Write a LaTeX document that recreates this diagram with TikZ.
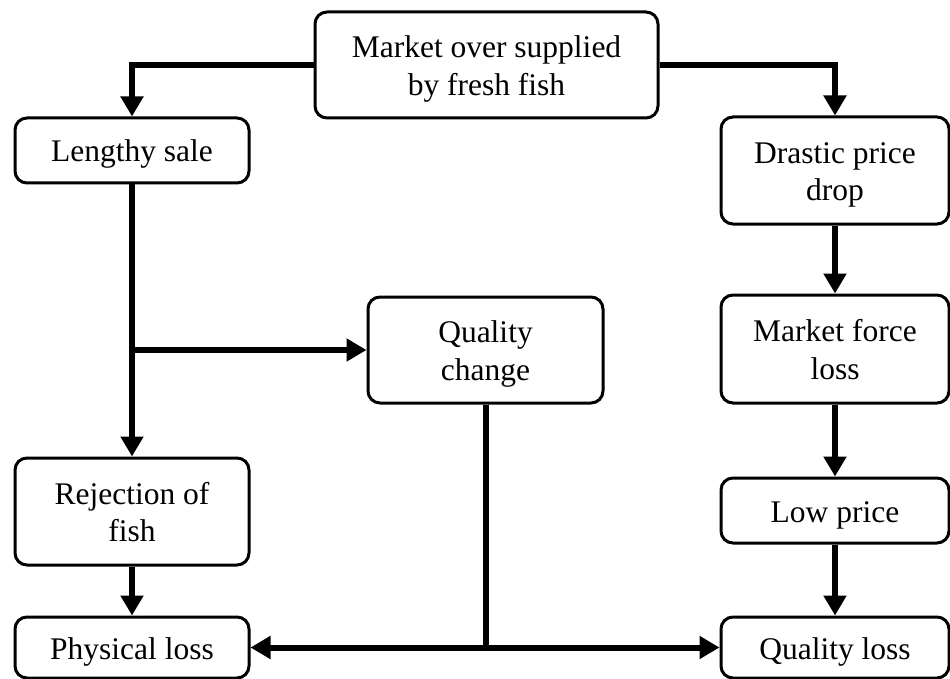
\documentclass[tikz,border=0pt]{standalone}
\usepackage{fontspec}
\setmainfont{Liberation Serif}
\usetikzlibrary{arrows.meta}
\newcommand\bt[1]{\raisebox{-4pt}[\height][\depth]{\begin{tabular}{@{}c@{}}#1\end{tabular}}}
\begin{document}
\begin{tikzpicture}[x=1pt,y=-1pt,
  box/.style={draw, line width=3pt, rounded corners=12pt, inner sep=0pt,
    font=\fontsize{31.5}{37.5}\selectfont},
  conn/.style={line width=6pt},
  arr/.style={line width=6pt, -{Triangle[length=20pt,width=22pt]}}]
\useasboundingbox (0,0) rectangle (950,679);
\node[box, minimum width=343pt, minimum height=106pt] (top) at (486.5,65) {\bt{Market over supplied\\by fresh fish}};
\node[box, minimum width=234pt, minimum height=65pt] (ls) at (132,150.5) {\bt{Lengthy sale}};
\node[box, minimum width=228pt, minimum height=107pt] (dpd) at (835,170.5) {\bt{Drastic price\\drop}};
\node[box, minimum width=235pt, minimum height=106pt] (qc) at (485.5,350) {\bt{Quality\\change}};
\node[box, minimum width=228pt, minimum height=108pt] (mfl) at (835,349) {\bt{Market force\\loss}};
\node[box, minimum width=234pt, minimum height=107pt] (rej) at (132,511.5) {\bt{Rejection of\\fish}};
\node[box, minimum width=228pt, minimum height=65pt] (lp) at (835,510.5) {\bt{Low price}};
\node[box, minimum width=234pt, minimum height=61pt] (pl) at (132,647.5) {\bt{Physical loss}};
\node[box, minimum width=228pt, minimum height=61pt] (ql) at (835,647.5) {\bt{Quality loss}};
\coordinate (jn) at (qc.south |- pl.east);
\draw[arr] (top.west) -| (ls.north);
\draw[arr] (top.east) -| (dpd.north);
\draw[arr] (ls.south) -- (rej.north);
\draw[arr] (ls.south |- qc.west) -- (qc.west);
\draw[arr] (rej.south) -- (pl.north);
\draw[arr] (dpd.south) -- (mfl.north);
\draw[arr] (mfl.south) -- (lp.north);
\draw[arr] (lp.south) -- (ql.north);
\draw[conn] (qc.south) -- ([yshift=3pt]jn);
\draw[arr] (jn) -- (pl.east);
\draw[arr] (jn) -- (ql.west);
\end{tikzpicture}
\end{document}
